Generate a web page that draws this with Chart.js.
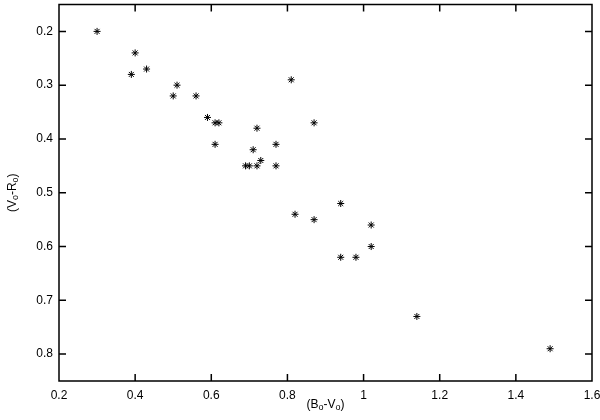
<!DOCTYPE html>
<html>
<head>
<meta charset="utf-8">
<script src="https://cdn.jsdelivr.net/npm/chart.js@4.4.0/dist/chart.umd.min.js"></script>
<style>
  html, body { margin: 0; padding: 0; background: #fff; overflow: hidden; }
  #wrap { width: 600px; height: 420px; position: relative; }
  canvas { display: block; }
</style>
</head>
<body>
<div id="wrap"><canvas id="scatter"></canvas></div>
<script>
// colour index data
const bv = [0.30, 0.40, 0.39, 0.43, 0.51, 0.50, 0.56, 0.59, 0.61, 0.62,
            0.61, 0.72, 0.71, 0.73, 0.69, 0.70, 0.72, 0.77, 0.77, 0.81,
            0.82, 0.87, 0.94, 0.87, 1.02, 1.02, 0.94, 0.98, 1.14, 1.49];
const vr = [0.20, 0.24, 0.28, 0.27, 0.30, 0.32, 0.32, 0.36, 0.37, 0.37,
            0.41, 0.38, 0.42, 0.44, 0.45, 0.45, 0.45, 0.41, 0.45, 0.29,
            0.54, 0.37, 0.52, 0.55, 0.56, 0.60, 0.62, 0.62, 0.73, 0.79];
const xTicks = [0.2, 0.4, 0.6, 0.8, 1.0, 1.2, 1.4, 1.6];
const yTicks = [0.2, 0.3, 0.4, 0.5, 0.6, 0.7, 0.8];

const FONT = '"Liberation Sans", Arial, sans-serif';

// draws text with "o" subscripts, e.g. ['(B', 'o', '-V', 'o', ')']
function drawSubText(ctx, parts, cx, cy) {
  const big = '12px ' + FONT, small = '9px ' + FONT;
  let w = 0;
  parts.forEach((p, i) => {
    ctx.font = i % 2 ? small : big;
    w += ctx.measureText(p).width;
  });
  let x = cx - w / 2;
  parts.forEach((p, i) => {
    ctx.font = i % 2 ? small : big;
    ctx.fillText(p, x, i % 2 ? cy + 3 : cy);
    x += ctx.measureText(p).width;
  });
}

const noPad = (s) => {
  s.paddingLeft = 0; s.paddingRight = 0;
  s.paddingTop = 0; s.paddingBottom = 0;
};

// gnuplot style box with inward ticks on all four sides
const frame = {
  id: 'frame',
  afterDraw(chart) {
    const { ctx, chartArea: a, scales } = chart;
    const tl = 7;
    ctx.save();
    ctx.strokeStyle = '#000';
    ctx.lineWidth = 1.5;
    ctx.beginPath();
    ctx.moveTo(a.left, a.top);
    ctx.lineTo(a.right, a.top);
    ctx.lineTo(a.right, a.bottom);
    ctx.lineTo(a.left, a.bottom);
    ctx.closePath();
    for (const v of xTicks) {
      const px = scales.x.getPixelForValue(v);
      ctx.moveTo(px, a.bottom); ctx.lineTo(px, a.bottom - tl);
      ctx.moveTo(px, a.top); ctx.lineTo(px, a.top + tl);
    }
    for (const v of yTicks) {
      const py = scales.y.getPixelForValue(v);
      ctx.moveTo(a.left, py); ctx.lineTo(a.left + tl, py);
      ctx.moveTo(a.right, py); ctx.lineTo(a.right - tl, py);
    }
    ctx.stroke();

    ctx.fillStyle = '#000';
    ctx.textBaseline = 'middle';
    ctx.textAlign = 'left';
    drawSubText(ctx, ['(B', 'o', '-V', 'o', ')'], (a.left + a.right) / 2, 405);
    ctx.translate(13, (a.top + a.bottom) / 2);
    ctx.rotate(-Math.PI / 2);
    drawSubText(ctx, ['(V', 'o', '-R', 'o', ')'], 0, 0);
    ctx.restore();
  }
};

new Chart(document.getElementById('scatter'), {
  type: 'scatter',
  data: {
    datasets: [{
      data: bv.map((x, i) => ({ x: x, y: vr[i] })),
      pointStyle: 'star',
      pointRadius: 3.5,
      pointHoverRadius: 3.5,
      borderWidth: 1,
      borderColor: '#000',
      backgroundColor: '#000',
    }],
  },
  options: {
    animation: false,
    responsive: true,
    maintainAspectRatio: false,
    layout: { padding: { top: 4, right: 8, left: 0, bottom: 0 } },
    scales: {
      x: {
        type: 'linear',
        min: 0.2,
        max: 1.6,
        afterBuildTicks: (s) => { s.ticks = xTicks.map(v => ({ value: v })); },
        afterFit: (s) => { s.height = 39; noPad(s); },
        grid: { display: false, drawTicks: false },
        border: { display: false },
        ticks: {
          padding: 7,
          color: '#000',
          font: { family: FONT, size: 12 },
          maxRotation: 0,
          callback: (v) => String(Math.round(v * 10) / 10),
        },
      },
      y: {
        type: 'linear',
        reverse: true,
        min: 0.15,
        max: 0.85,
        afterBuildTicks: (s) => { s.ticks = yTicks.map(v => ({ value: v })); },
        afterFit: (s) => { s.width = 59; noPad(s); },
        grid: { display: false, drawTicks: false },
        border: { display: false },
        ticks: {
          padding: 6,
          color: '#000',
          font: { family: FONT, size: 12 },
          callback: (v) => (Math.round(v * 10) / 10).toFixed(1),
        },
      },
    },
    plugins: {
      legend: { display: false },
      tooltip: { enabled: false },
    },
  },
  plugins: [frame],
});
</script>
</body>
</html>
